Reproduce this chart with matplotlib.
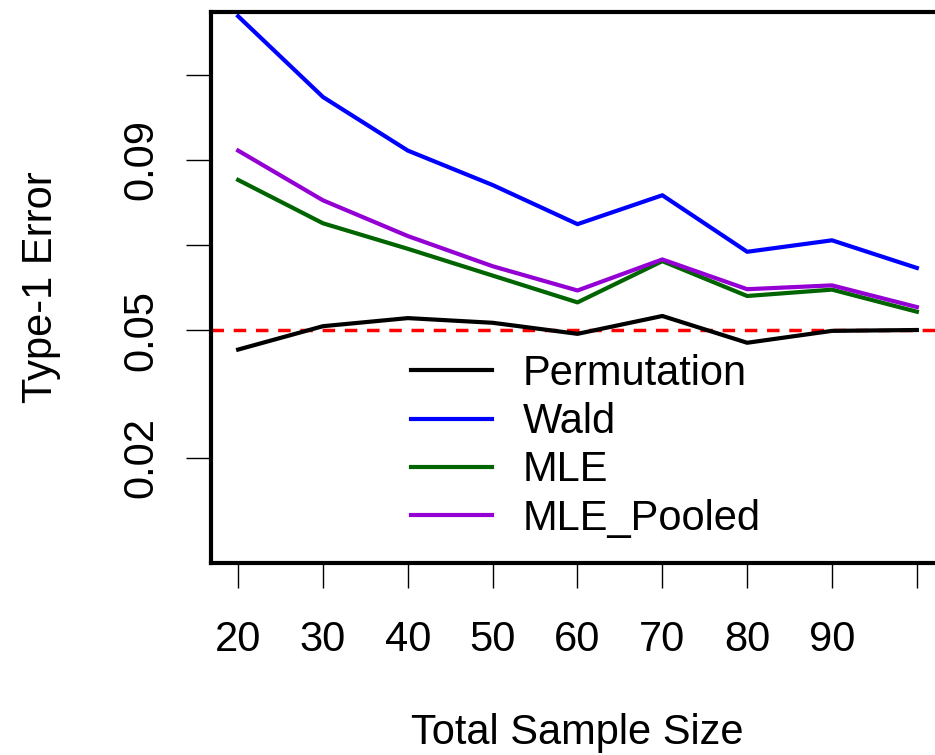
import matplotlib
matplotlib.use("Agg")
import matplotlib.pyplot as plt

# simulation results: type-1 error by total sample size
sample_size = [20, 30, 40, 50, 60, 70, 80, 90, 100]
permutation = [0.0454, 0.0509, 0.0528, 0.0517, 0.0491, 0.0533, 0.0470, 0.0498, 0.0500]
wald = [0.1238, 0.1048, 0.0922, 0.0841, 0.0749, 0.0817, 0.0684, 0.0711, 0.0646]
mle = [0.0853, 0.0751, 0.0691, 0.0628, 0.0565, 0.0662, 0.0580, 0.0595, 0.0543]
mle_pooled = [0.0922, 0.0805, 0.0721, 0.0650, 0.0593, 0.0666, 0.0596, 0.0605, 0.0554]

x_ticks = [20, 30, 40, 50, 60, 70, 80, 90, 100]
x_labels = ["20", "30", "40", "50", "60", "70", "80", "90", ""]
y_ticks = [0.02, 0.05, 0.07, 0.09, 0.11]
y_labels = ["0.02", "0.05", "", "0.09", ""]
alpha = 0.05

plt.rcParams['font.family'] = ['Liberation Sans', 'DejaVu Sans']
plt.rcParams['lines.scale_dashes'] = False

fig = plt.figure(figsize=(9.35, 7.55), dpi=100)
W, H = 935, 755
# plot region runs past the right edge of the picture, as in the original
ax = fig.add_axes([211 / W, (H - 563) / H, (944 - 211) / W, (563 - 12) / H])

ax.axhline(alpha, color='red', lw=2.5, linestyle=(0, (9, 7)), zorder=1)
ax.plot(sample_size, permutation, color='black', lw=3, label='Permutation')
ax.plot(sample_size, wald, color='blue', lw=3, label='Wald')
ax.plot(sample_size, mle, color='darkgreen', lw=3, label='MLE')
ax.plot(sample_size, mle_pooled, color='darkviolet', lw=3, label='MLE_Pooled')

ax.set_xlim(16.8, 103.2)
ax.set_ylim(-0.0048, 0.1248)

ax.set_xticks(x_ticks)
ax.set_xticklabels(x_labels)
ax.set_yticks(y_ticks)
ax.set_yticklabels(y_labels, rotation=90, va='center')

for s in ax.spines.values():
    s.set_linewidth(3)
ax.tick_params(direction='out', length=18, width=1, labelsize=30)
ax.tick_params(axis='x', pad=23)
ax.tick_params(axis='y', pad=18)

ax.set_xlabel('Total Sample Size', fontsize=30, labelpad=38)
ax.set_ylabel('Type-1 Error', fontsize=30, labelpad=43)

ax.legend(loc='upper left', bbox_to_anchor=(0.25, 0.41), frameon=False,
          fontsize=30, handlelength=1.95, handletextpad=0.73,
          labelspacing=0.2, borderaxespad=0)

fig.savefig('out.png', dpi=100)
